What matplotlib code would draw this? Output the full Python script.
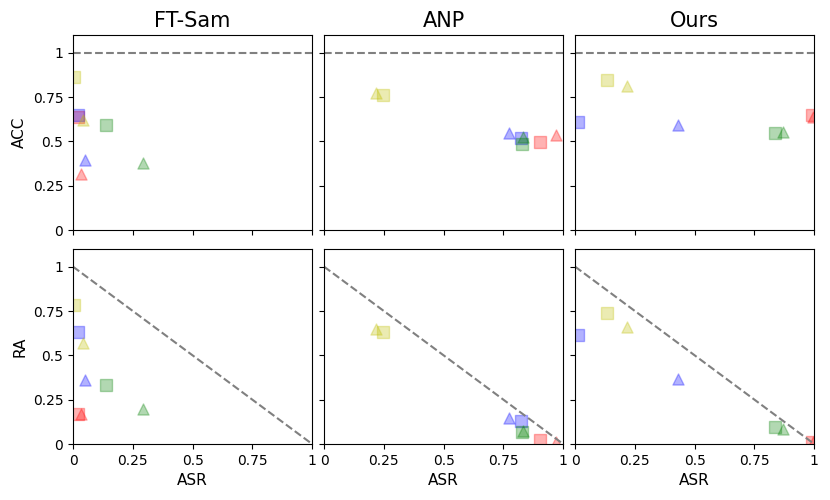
import matplotlib
matplotlib.use("Agg")
import matplotlib.pyplot as plt

methods = ["FT-Sam", "ANP", "Ours"]
colors = ["r", "b", "y", "g"]
markers = ["s", "^"]

# values per method: [color][marker] (square, triangle)
asr = {
    "FT-Sam": [[0.020, 0.032], [0.019, 0.050], [0.005, 0.040], [0.1375, 0.293]],
    "ANP":    [[0.904, 0.968], [0.822, 0.772], [0.245, 0.217], [0.828, 0.832]],
    "Ours":   [[0.990, 0.995], [0.012, 0.429], [0.134, 0.219], [0.836, 0.868]],
}
acc = {
    "FT-Sam": [[0.637, 0.315], [0.650, 0.395], [0.863, 0.618], [0.590, 0.377]],
    "ANP":    [[0.497, 0.537], [0.518, 0.546], [0.763, 0.772], [0.486, 0.524]],
    "Ours":   [[0.650, 0.637], [0.612, 0.590], [0.844, 0.810], [0.550, 0.552]],
}
ra = {
    "FT-Sam": [[0.170, 0.170], [0.631, 0.359], [0.783, 0.567], [0.331, 0.199]],
    "ANP":    [[0.023, 0.013], [0.127, 0.146], [0.631, 0.650], [0.070, 0.076]],
    "Ours":   [[0.013, 0.010], [0.614, 0.369], [0.737, 0.662], [0.098, 0.083]],
}

ticks = [0, 0.25, 0.5, 0.75, 1]
tick_labels = ["0", "0.25", "0.5", "0.75", "1"]

fig, axes = plt.subplots(2, 3, figsize=(8.3, 5), dpi=100, sharey=True)
fig.subplots_adjust(left=0.088, right=0.981, top=0.93, bottom=0.112,
                    wspace=0.05, hspace=0.097)

for j, m in enumerate(methods):
    for i, (vals, lab) in enumerate([(acc, "ACC"), (ra, "RA")]):
        ax = axes[i, j]
        if i == 0:
            ax.plot([0, 1], [1, 1], "--", color="gray", lw=1.5)
        else:
            ax.plot([0, 1], [1, 0], "--", color="gray", lw=1.5)
        for ci, c in enumerate(colors):
            for mi, mk in enumerate(markers):
                ax.scatter(asr[m][ci][mi], vals[m][ci][mi], c=c, marker=mk,
                           s=64, alpha=0.3, edgecolors=c, linewidths=1.0)
        ax.set_xlim(0, 1)
        ax.set_ylim(0, 1.1)
        ax.set_xticks(ticks)
        ax.set_yticks(ticks)
        ax.tick_params(labelsize=10)
        if i == 0:
            ax.set_xticklabels([])
            ax.set_title(m, fontsize=15)
        else:
            ax.set_xticklabels(tick_labels)
            ax.set_xlabel("ASR", fontsize=11)
        if j == 0:
            ax.set_yticklabels(tick_labels)
            ax.set_ylabel(lab, fontsize=11)
        else:
            ax.tick_params(labelleft=False)

fig.savefig("out.png", dpi=100)
